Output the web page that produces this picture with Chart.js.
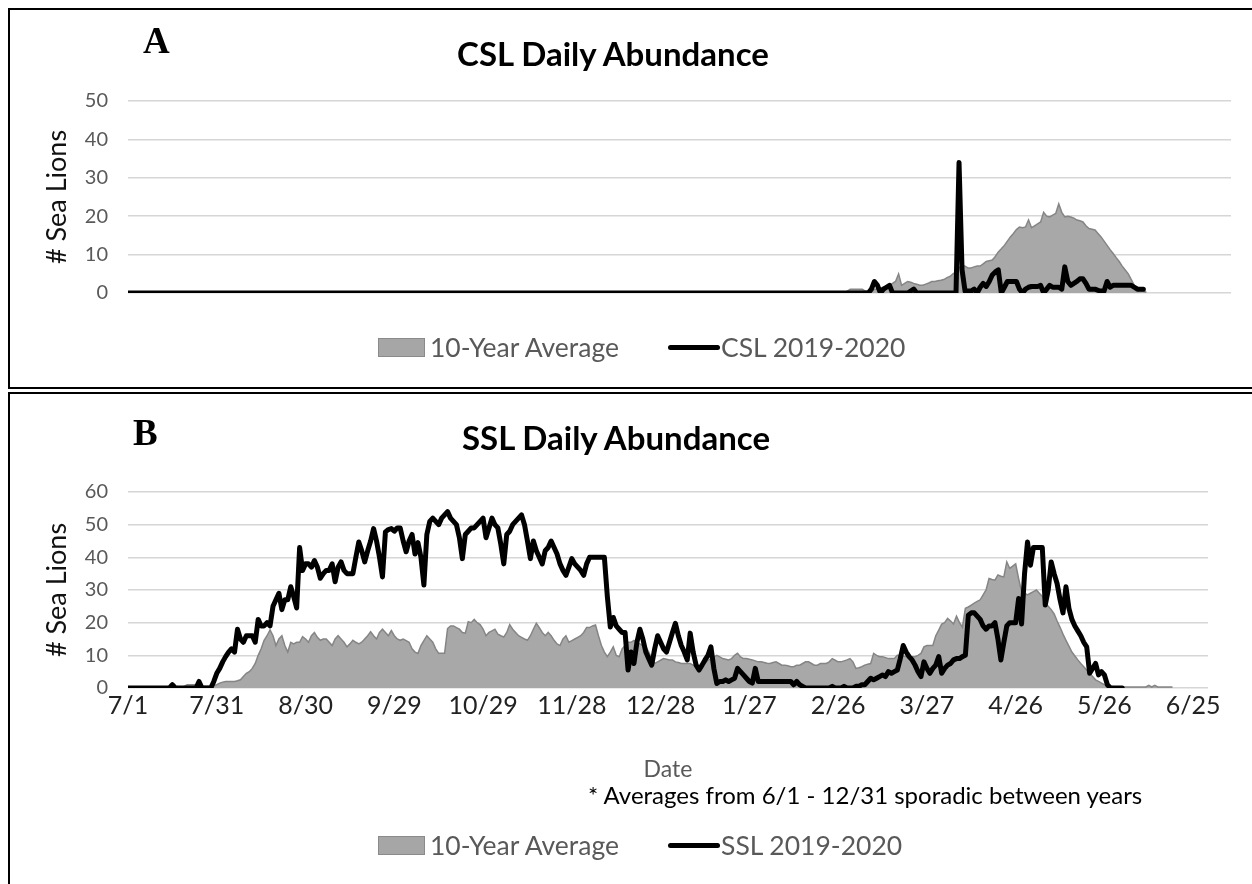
<!DOCTYPE html>
<html><head><meta charset="utf-8">
<script src="https://cdn.jsdelivr.net/npm/chart.js@4.4.0/dist/chart.umd.min.js"></script>
<style>
html,body{margin:0;padding:0;background:#fff;}
body{width:1252px;height:884px;position:relative;overflow:hidden;font-family:Lato,'Noto Sans',sans-serif;}
.panel{position:absolute;border:2.5px solid #000;box-sizing:border-box;}
canvas{position:absolute;left:0;}
.t{position:absolute;white-space:nowrap;}
.letter{font-family:'Liberation Serif','Times New Roman',serif;font-weight:bold;font-size:37px;line-height:37px;color:#000;}
.title{font-weight:bold;font-size:33px;line-height:38px;color:#000;transform:translateX(-50%);}
.leg{font-size:26.5px;line-height:32px;color:#595959;}
.box{position:absolute;width:47px;height:19px;background:#a6a6a6;border:1px solid #8a8a8a;box-sizing:border-box;}
.ln{position:absolute;width:52px;height:5px;background:#000;border-radius:3px;}
</style></head>
<body>
<canvas id="cA" width="1252" height="390" style="top:0"></canvas>
<canvas id="cB" width="1252" height="492" style="top:392px"></canvas>
<div class="panel" style="left:8px;top:8px;width:1260px;height:381px;"></div>
<div class="panel" style="left:8px;top:392px;width:1260px;height:500px;"></div>

<div class="t letter" style="left:143px;top:22px;">A</div>
<div class="t title" style="left:613px;top:34px;">CSL Daily Abundance</div>
<div class="box" style="left:378px;top:338px;"></div>
<div class="t leg" style="left:430px;top:331px;">10-Year Average</div>
<div class="ln" style="left:668px;top:345px;"></div>
<div class="t leg" style="left:721px;top:331px;">CSL 2019-2020</div>

<div class="t letter" style="left:133px;top:414px;">B</div>
<div class="t title" style="left:616px;top:418px;">SSL Daily Abundance</div>
<div class="t" style="left:668px;top:754px;transform:translateX(-50%);font-size:23px;line-height:28px;color:#595959;">Date</div>
<div class="t" style="left:588px;top:781px;font-size:24px;line-height:28px;color:#000;">* Averages from 6/1 - 12/31 sporadic between years</div>
<div class="box" style="left:378px;top:836px;"></div>
<div class="t leg" style="left:430px;top:829px;">10-Year Average</div>
<div class="ln" style="left:668px;top:843px;"></div>
<div class="t leg" style="left:721px;top:829px;">SSL 2019-2020</div>

<script>
// Day index 0 = 7/1/2019
const tickDays = [0,30,60,90,120,150,180,210,240,270,300,330,360];
const tickLabels = ['7/1','7/31','8/30','9/29','10/29','11/28','12/28','1/27','2/26','3/27','4/26','5/26','6/25'];

// CSL 10-year average, daily from 7/1
const cslAvg = [
0,0,0,0,0,0,0,0,0,0, 0,0,0,0,0,0,0,0,0,0, 0,0,0,0,0,0,0,0,0,0, 0,0,0,0,0,0,0,0,0,0,
0,0,0,0,0,0,0,0,0,0, 0,0,0,0,0,0,0,0,0,0, 0,0,0,0,0,0,0,0,0,0, 0,0,0,0,0,0,0,0,0,0,
0,0,0,0,0,0,0,0,0,0, 0,0,0,0,0,0,0,0,0,0, 0,0,0,0,0,0,0,0,0,0, 0,0,0,0,0,0,0,0,0,0,
0,0,0,0,0,0,0,0,0,0, 0,0,0,0,0,0,0,0,0,0, 0,0,0,0,0,0,0,0,0,0, 0,0,0,0,0,0,0,0,0,0,
0,0,0,0,0,0,0,0,0,0, 0,0,0,0,0,0,0,0,0,0, 0,0,0,0,0,0,0,0,0,0, 0,0,0,0,0,0,0,0,0,0,
0,0,0,0,0,0,0,0,0,0, 0,0,0,0,0,0,0,0,0,0, 0,0,0,0,0,0,0,0,0,0, 0,0,0,0,0,0,0,0,0.5,1,
1,1,1,1,0.5,0.5,0.8,1,1,1.3, 1.5,1.8,2,2.5,3,5,2,2.5,3,2.8,
2.5,2.3,2,2,2.3,2.6,3,3,3.2,3.3, 3.5,4,4.3,5,5.5,6.5,7.2,7,6.5,6.5,
6.8,7,7,7.6,8.2,8.4,8.6,9.5,10.7,11.5, 12.4,13.5,14.6,15.5,16.5,17.2,17,17.2,19,17,
17.5,18,18.5,21,20,19.8,20.3,20.7,23.2,21, 19.8,20,19.8,19.5,19,18.8,18.5,17.5,16.8,16.6,
16.4,15.5,14.6,13.5,12.4,11.3,10.3,9.2,8.2,7, 6,5,3.5,2,1.5,1,0.5,0.2
];
// CSL 2019-2020, daily from 7/1
const csl1920 = [
0,0,0,0,0,0,0,0,0,0, 0,0,0,0,0,0,0,0,0,0, 0,0,0,0,0,0,0,0,0,0, 0,0,0,0,0,0,0,0,0,0,
0,0,0,0,0,0,0,0,0,0, 0,0,0,0,0,0,0,0,0,0, 0,0,0,0,0,0,0,0,0,0, 0,0,0,0,0,0,0,0,0,0,
0,0,0,0,0,0,0,0,0,0, 0,0,0,0,0,0,0,0,0,0, 0,0,0,0,0,0,0,0,0,0, 0,0,0,0,0,0,0,0,0,0,
0,0,0,0,0,0,0,0,0,0, 0,0,0,0,0,0,0,0,0,0, 0,0,0,0,0,0,0,0,0,0, 0,0,0,0,0,0,0,0,0,0,
0,0,0,0,0,0,0,0,0,0, 0,0,0,0,0,0,0,0,0,0, 0,0,0,0,0,0,0,0,0,0, 0,0,0,0,0,0,0,0,0,0,
0,0,0,0,0,0,0,0,0,0, 0,0,0,0,0,0,0,0,0,0, 0,0,0,0,0,0,0,0,0,0, 0,0,0,0,0,0,0,0,0,0,
0,0,0,0,0,0,1,3,2,0, 1,1.5,2,0,0,0,0,0,0,0.5,
1,0,0,0,0,0,0,0,0,0, 0,0,0,0,0,34,6,0.5,0.5,0.5,
1,0,1.5,2.5,1.7,3,4.7,5.5,6,0, 1.5,3,3,3,3,1,0,1,1.5,1.7,
1.7,1.7,2,0,1,2,1.5,1.5,1.5,1, 6.8,3,2,2.5,3,3.7,3.7,2.5,1,1,
1,0.7,0.5,0.5,3,1.5,2,2,2,2, 2,2,2,1.5,1,1,1
];
// SSL 10-year average, daily from 7/1
const sslAvg = [
0,0,0,0,0,0,0,0,0,0, 0,0,0,0,0,0,0,0,0,0.5,
1,1,1,1,1,0.5,0.5,0.5,0.5,0.8, 1,1.5,1.8,2,2,2,2,2.2,2.5,3.5,
4.5,5,6,7.5,10,12,14.6,16,17.8,16, 13,15,16,13,11,14,13.5,14,14,15.7,
15,14,16,17,15.5,14.6,15,15,14,13, 15,16,15,14,12.6,13.5,14.6,14,13.5,14,
15,16,17.2,16,15,17,18,17,16,17.6, 16,15,14.6,15,14.5,14,12,11,10.6,13,
14.5,16,15,14,12,10.6,10.6,10.6,18.2,19, 19,18.5,18,17,16.8,20.3,20,21,20,19.4,
18,16,17,17.5,18,16.5,16,15.6,17,19.4, 18,17,16,15.5,15,14.6,16,18,19.8,18.5,
17,16,17,16,14.6,13.5,13,15,16,14, 14.5,15,15.5,16,17,18.5,18.5,19,19.3,16,
13,11,9.6,11,12.6,10,9.6,12,13,14, 14,14.6,14,13.5,13,12.6,11,9,7.5,8,
8.5,9,8.8,8.6,8.6,8,7.8,7.5,7.5,7.5, 7.5,7,7,6.8,6.5,7.5,8.5,9,9.5,10,
9.5,9,8.8,8.6,9,10,10.6,9.5,9,9, 8.8,8.6,8.3,8,8,7.8,7.6,7.5,7.8,8,
7.5,7,7,6.8,6.5,6.5,7,7,7.5,8, 8,7.5,7,7,7.5,7.5,7.5,8,9,8.5,
8,8,8.3,8.6,9,8,6,6.2,6.5,7, 7.3,7.5,10.6,10,9.6,9.6,9.3,9,9,9,
10,10,9.8,9.6,9,9.6,9.6,10,10.6,12.6, 13,13,13,16,17.7,19.6,20,21.3,20.5,19.6,
22,20,18.6,24.4,24.8,25.4,26,26.5,27,28.5, 30,33.5,33.2,33,34.6,34.2,34,38.6,36.6,37.3,
38,33.5,29.5,29,28.5,29,29.5,30,29,28, 26,25,24,22.7,20.5,18.6,16.5,14.6,12.8,11,
9.8,8.6,7.5,6.5,5.5,4.5,3.5,2.5,2,1.5, 1,0.8,0.5,0.4,0.3,0.3,0.3,0.3,0.3,0.3,
0.3,0.3,0.3,0.3,0.3,0.8,0.3,0.8,0.3,0.3, 0.3,0.3,0.3,0.3
];
// SSL 2019-2020, daily from 7/1
const ssl1920 = [
0,0,0,0,0,0,0,0,0,0, 0,0,0,0,0,1,0,0,0,0, 0,0,0,0,2,0,0,0,0,2,
4.5,6,8,9.6,11,12,11,18,15,14, 16,16,16,14,21,19,19,20,19,25,
27,29,24,27,27,31,28,24.5,43,36, 38,38,37,39,37,33.6,35,36,36,38,
32.5,37,38.6,36,35,35,35,40,44.7,42, 38.6,42,45,48.8,45,40,34,47.8,48.5,48.8,
48,49,49,45,41.7,45,47,41,44.5,40, 31.5,47,51,52,51,50,52,53,54,52,
51,50,46,39.6,47,48,49,49,50,51, 52,46,49,52,50,49,44,38,47,48,
50,51,52,53,50,45,39.6,45,42,40, 38,42,43,45,43,41,38,36,34.5,37,
39.6,38,37,36,34.5,38,40,40,40,40, 40,40,28,18.7,21.6,19,18,17,17,5.5,
11,7.5,14,18,15,11,9,7,12,16, 14,12,11,14,17,19.8,16,13,11,8.6,
16.8,11,7,5.5,7,8.6,10,12.6,6,1.4, 2,2,2.5,2,2.5,3,6,5,4,3,
2,1.5,6,2,2,2,2,2,2,2, 2,2,2,2,2,1,2,1,0.5,0,
0,0,0,0,0,0,0,0,0.5,0, 0,0,0.5,0,0,0,0.5,0.5,1,1,
2,3,2.5,3,3.5,4,3.5,5,4.5,5, 5.5,9,13,11,9.6,8.6,7,5,3.5,8,
6,4.5,6,7,9.6,4.5,6,7,7.5,8.6, 9,9,9.6,10,22.3,23,23,22,21,19,
18,19,19,20,15,8.6,14,19,20,20, 20,27.4,19.6,35,44.7,37.6,43,43,43,43,
25.4,30,38.6,35,32,27,23,31,24.4,21, 19,17.5,16,14,12.6,4.5,6,7.5,4,5,
4,1,0,0,0,0,0
];

const FONT = "Lato, 'Noto Sans', sans-serif";
const pts = arr => arr.map((v, i) => ({x: i, y: v}));

function avgSet(label, arr) {
  return {label, data: pts(arr), fill: 'origin', backgroundColor: '#a8a8a8',
    borderColor: '#858585', borderWidth: 1.5, pointRadius: 0, tension: 0, order: 2};
}
function lineSet(label, arr) {
  return {label, data: pts(arr), fill: false, borderColor: '#000', borderWidth: 5,
    borderJoinStyle: 'round', borderCapStyle: 'round', pointRadius: 0, tension: 0, order: 1};
}
function yScale(max) {
  return {
    min: 0, max: max,
    ticks: {stepSize: 10, padding: 20, color: '#595959', font: {family: FONT, size: 20}},
    grid: {color: '#d6d6d6', lineWidth: 1.5, drawTicks: false},
    border: {display: false},
    title: {display: true, text: '# Sea Lions', color: '#111', font: {family: FONT, size: 27}, padding: {top: 41, bottom: 0}},
    afterFit(s) { s.width = 128; }
  };
}

new Chart(document.getElementById('cA'), {
  type: 'line',
  data: {datasets: [lineSet('CSL 2019-2020', csl1920), avgSet('10-Year Average', cslAvg)]},
  options: {
    responsive: false, animation: false,
    layout: {padding: {left: 0, right: 21, top: 101, bottom: 97}},
    plugins: {legend: {display: false}, tooltip: {enabled: false}},
    scales: {
      x: {type: 'linear', min: 0, max: 365, display: false},
      y: yScale(50)
    }
  }
});

new Chart(document.getElementById('cB'), {
  type: 'line',
  data: {datasets: [lineSet('SSL 2019-2020', ssl1920), avgSet('10-Year Average', sslAvg)]},
  options: {
    responsive: false, animation: false,
    layout: {padding: {left: 0, right: 44, top: 100, bottom: 166}},
    plugins: {legend: {display: false}, tooltip: {enabled: false}},
    scales: {
      x: {
        type: 'linear', min: 0, max: 365,
        grid: {display: false, drawTicks: false}, border: {display: false},
        afterBuildTicks(s) { s.ticks = tickDays.map(v => ({value: v})); },
        ticks: {autoSkip: false, maxRotation: 0, padding: 5, color: '#222',
          font: {family: FONT, size: 25, lineHeight: 1},
          callback: (v) => { const i = tickDays.indexOf(v); return i >= 0 ? tickLabels[i] : ''; }},
        afterFit(s) { s.height = 30; }
      },
      y: yScale(60)
    }
  }
});
</script>
</body></html>
